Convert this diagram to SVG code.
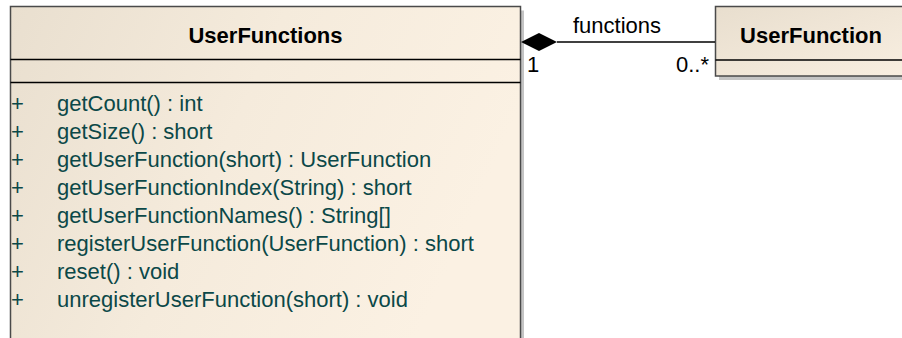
<svg xmlns="http://www.w3.org/2000/svg" width="902" height="338" viewBox="0 0 902 338">
  <style>
    .box { stroke: #4a4a4a; stroke-width: 1.5; }
    .shadow { fill: #c4c4c4; }
    .sep { stroke: #000; stroke-width: 1.5; }
    .title { font-family: "Liberation Sans", Arial, sans-serif; font-weight: bold; font-size: 22px; fill: #000; text-anchor: middle; }
    .op { font-family: "Liberation Sans", Arial, sans-serif; font-size: 22px; fill: #0b4848; }
    .lbl { font-family: "Liberation Sans", Arial, sans-serif; font-size: 22px; fill: #000; }
  </style>
  <defs>
    <linearGradient id="fillA" x1="0" y1="0" x2="1" y2="0.3">
      <stop offset="0" stop-color="#e9dfcf"/>
      <stop offset="0.5" stop-color="#f5ebdc"/>
      <stop offset="1" stop-color="#fbf1e3"/>
    </linearGradient>
    <linearGradient id="fillB" x1="0" y1="0" x2="1" y2="1">
      <stop offset="0" stop-color="#e8dece"/>
      <stop offset="1" stop-color="#f9efe1"/>
    </linearGradient>
  </defs>

  <g id="UserFunctions">
    <rect class="shadow" x="14" y="10.5" width="510" height="340"/>
    <rect class="box" x="10.5" y="6.5" width="510" height="340" fill="url(#fillA)"/>
    <text class="title" x="265.5" y="43">UserFunctions</text>
    <line class="sep" x1="10.5" y1="59.5" x2="520.5" y2="59.5"/>
    <line class="sep" x1="10.5" y1="82.5" x2="520.5" y2="82.5"/>
    <g class="op">
      <text x="11" y="111">+</text><text x="57" y="111">getCount() : int</text>
      <text x="11" y="139">+</text><text x="57" y="139">getSize() : short</text>
      <text x="11" y="167">+</text><text x="57" y="167">getUserFunction(short) : UserFunction</text>
      <text x="11" y="195">+</text><text x="57" y="195">getUserFunctionIndex(String) : short</text>
      <text x="11" y="223">+</text><text x="57" y="223">getUserFunctionNames() : String[]</text>
      <text x="11" y="251">+</text><text x="57" y="251">registerUserFunction(UserFunction) : short</text>
      <text x="11" y="279">+</text><text x="57" y="279">reset() : void</text>
      <text x="11" y="307">+</text><text x="57" y="307">unregisterUserFunction(short) : void</text>
    </g>
  </g>

  <g id="UserFunction">
    <rect class="shadow" x="719" y="10.5" width="200" height="69.5"/>
    <rect class="box" x="715.5" y="6.5" width="200" height="69.5" fill="url(#fillB)"/>
    <text class="title" x="811" y="43">UserFunction</text>
    <line class="sep" x1="715.5" y1="60" x2="915" y2="60"/>
  </g>

  <g id="connectors">
    <line x1="557" y1="42" x2="715" y2="42" stroke="#000" stroke-width="1.5"/>
    <polygon points="521,42 539,33 557,42 539,51" fill="#000"/>
    <text class="lbl" x="573" y="33">functions</text>
    <text class="lbl" x="527" y="72">1</text>
    <text class="lbl" x="709" y="72" text-anchor="end">0..*</text>
  </g>
</svg>
